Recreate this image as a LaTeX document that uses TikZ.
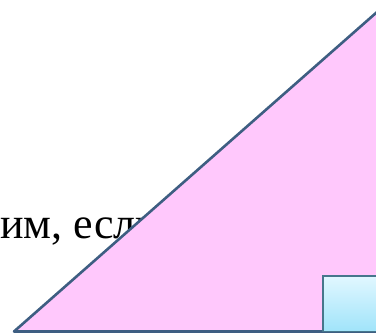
\documentclass[tikz,border=0pt]{standalone}
\usepackage{fontspec}
\setmainfont{Liberation Serif}
\definecolor{tripink}{RGB}{255,200,252}
\definecolor{triedge}{RGB}{62,94,130}
\definecolor{marktop}{RGB}{225,247,255}
\definecolor{markbot}{RGB}{160,228,250}
\definecolor{markedge}{RGB}{70,118,140}
\tikzstyle{triangle} = [draw=triedge, fill=tripink, line width=2.6pt, line join=round]
\tikzstyle{rightmark} = [draw=markedge, line width=1.6pt, top color=marktop, bottom color=markbot]
\tikzstyle{caption} = [anchor=base west, inner sep=0pt, font=\fontsize{44}{50}\selectfont, text=black]

\begin{document}
\begin{tikzpicture}[x=1pt, y=1pt]
      \useasboundingbox (0,0) rectangle (376,333);
      \clip (0,0) rectangle (376,333);
      % Текст за треугольником
      \node[caption] (txt) at (0,94) {им, если};
      
      % Вершины треугольника
      \coordinate (A) at (14,1.5);
      \coordinate (B) at (380,1.5);
      \coordinate (C) at (380,323.6);
      
      % Треугольник и прямой угол
      \draw[triangle] (A) -- (B) -- (C) -- cycle;
      \draw[rightmark] (323,1.5) rectangle (380,57);
    \end{tikzpicture}
\end{document}
